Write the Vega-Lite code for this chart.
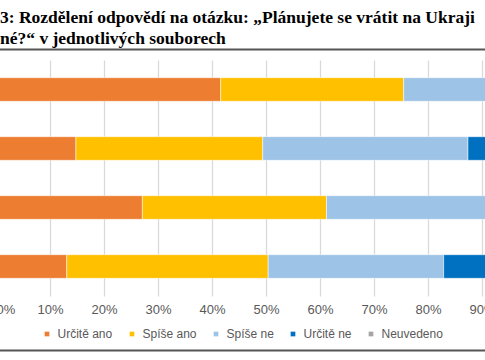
{
  "$schema": "https://vega.github.io/schema/vega-lite/v6.json",
  "autosize": {"type": "none"},
  "width": 540,
  "height": 236,
  "padding": {"left": -4, "top": 60, "right": -51, "bottom": 64},
  "background": "white",
  "title": {
    "text": ["3: Rozdělení odpovědí na otázku: „Plánujete se vrátit na Ukraji", "né?“ v jednotlivých souborech"],
    "anchor": "start",
    "frame": "group",
    "dx": 4,
    "offset": 2,
    "font": "Liberation Serif",
    "fontSize": 17.5,
    "fontWeight": "bold",
    "color": "#000000",
    "lineHeight": 21
  },
  "data": {
    "values": [
      {"soubor": "Soubor 1", "odpoved": "Určitě ano", "poradi": 1, "procento": 41.6},
      {"soubor": "Soubor 1", "odpoved": "Spíše ano", "poradi": 2, "procento": 33.9},
      {"soubor": "Soubor 1", "odpoved": "Spíše ne", "poradi": 3, "procento": 20.0},
      {"soubor": "Soubor 1", "odpoved": "Určitě ne", "poradi": 4, "procento": 3.5},
      {"soubor": "Soubor 1", "odpoved": "Neuvedeno", "poradi": 5, "procento": 1.0},
      {"soubor": "Soubor 2", "odpoved": "Určitě ano", "poradi": 1, "procento": 14.8},
      {"soubor": "Soubor 2", "odpoved": "Spíše ano", "poradi": 2, "procento": 34.6},
      {"soubor": "Soubor 2", "odpoved": "Spíše ne", "poradi": 3, "procento": 38.0},
      {"soubor": "Soubor 2", "odpoved": "Určitě ne", "poradi": 4, "procento": 11.8},
      {"soubor": "Soubor 2", "odpoved": "Neuvedeno", "poradi": 5, "procento": 0.8},
      {"soubor": "Soubor 3", "odpoved": "Určitě ano", "poradi": 1, "procento": 27.1},
      {"soubor": "Soubor 3", "odpoved": "Spíše ano", "poradi": 2, "procento": 34.1},
      {"soubor": "Soubor 3", "odpoved": "Spíše ne", "poradi": 3, "procento": 33.8},
      {"soubor": "Soubor 3", "odpoved": "Určitě ne", "poradi": 4, "procento": 4.0},
      {"soubor": "Soubor 3", "odpoved": "Neuvedeno", "poradi": 5, "procento": 1.0},
      {"soubor": "Soubor 4", "odpoved": "Určitě ano", "poradi": 1, "procento": 13.1},
      {"soubor": "Soubor 4", "odpoved": "Spíše ano", "poradi": 2, "procento": 37.3},
      {"soubor": "Soubor 4", "odpoved": "Spíše ne", "poradi": 3, "procento": 32.5},
      {"soubor": "Soubor 4", "odpoved": "Určitě ne", "poradi": 4, "procento": 16.1},
      {"soubor": "Soubor 4", "odpoved": "Neuvedeno", "poradi": 5, "procento": 1.0}
    ]
  },
  "layer": [
    {
      "mark": {"type": "bar", "stroke": "white", "strokeWidth": 0.5},
      "encoding": {
        "y": {"field": "soubor", "type": "nominal", "axis": null, "scale": {"paddingInner": 0.6, "paddingOuter": 0.3}},
        "x": {
          "field": "procento", "type": "quantitative", "stack": "zero",
          "scale": {"domain": [0, 100], "nice": false},
          "axis": {
            "orient": "bottom", "values": [0, 10, 20, 30, 40, 50, 60, 70, 80, 90, 100],
            "labelExpr": "datum.value + '%'", "title": null, "domain": false, "ticks": false,
            "grid": true, "gridColor": "#D9D9D9", "gridWidth": 1.3,
            "labelFont": "Liberation Sans", "labelFontSize": 13, "labelColor": "#595959", "labelPadding": 7
          }
        },
        "color": {
          "field": "odpoved", "type": "nominal",
          "scale": {"domain": ["Určitě ano", "Spíše ano", "Spíše ne", "Určitě ne", "Neuvedeno"], "range": ["#ED7D31", "#FFC000", "#9DC3E6", "#0070C0", "#A5A5A5"]},
          "legend": {
            "title": null, "orient": "none", "direction": "horizontal", "legendX": 45, "legendY": 268,
            "gridAlign": "none",
            "symbolType": "square", "symbolSize": 22, "symbolStrokeWidth": 0, "labelOffset": 4.5, "columnPadding": 13,
            "labelFont": "Liberation Sans", "labelFontSize": 12, "labelColor": "#595959"
          }
        },
        "order": {"field": "poradi", "type": "quantitative"}
      }
    },
    {
      "mark": {"type": "bar", "opacity": 0},
      "encoding": {
        "y": {"field": "soubor", "type": "nominal", "axis": null},
        "x": {
          "field": "procento", "type": "quantitative", "stack": "zero",
          "axis": {"orient": "top", "offset": 11, "labels": false, "ticks": false, "grid": false, "title": null, "domain": true, "domainColor": "#555555", "domainWidth": 2}
        }
      }
    },
    {
      "mark": {"type": "bar", "opacity": 0},
      "encoding": {
        "y": {"field": "soubor", "type": "nominal", "axis": null},
        "x": {
          "field": "procento", "type": "quantitative", "stack": "zero",
          "axis": {"orient": "bottom", "offset": 54, "labels": false, "ticks": false, "grid": false, "title": null, "domain": true, "domainColor": "#555555", "domainWidth": 2}
        }
      }
    }
  ],
  "resolve": {"axis": {"x": "independent"}},
  "config": {"view": {"stroke": null}}
}
